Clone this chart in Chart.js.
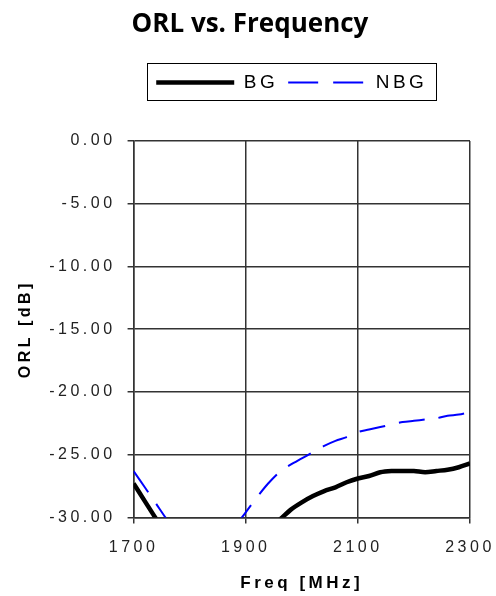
<!DOCTYPE html>
<html>
<head>
<meta charset="utf-8">
<script src="https://cdn.jsdelivr.net/npm/chart.js@4.4.1/dist/chart.umd.min.js"></script>
<style>
  html, body { margin: 0; padding: 0; background: #fff; }
  #wrap { position: relative; width: 496px; height: 596px; }
  #orl { position: absolute; left: 0; top: 0; }
  #title { position: absolute; left: 0; top: 6px; width: 500px; text-align: center;
           font: bold 26px "Open Sans"; line-height: 32px; color: #000; }
</style>
</head>
<body>
<div id="wrap">
  <canvas id="orl" width="496" height="596"></canvas>
  <div id="title">ORL vs. Frequency</div>
</div>
<script>
// frequency in MHz
var freq = [1700, 1720, 1740, 1760, 1800, 1850, 1880, 1900, 1920, 1940, 1960, 1980, 2000,
            2020, 2040, 2060, 2080, 2100, 2120, 2140, 2160, 2180, 2200, 2220, 2240, 2260, 2280, 2300];
// ORL in dB (below -30 is off the chart)
var bg  = [-27.3, -28.7, -30.1, -31.4, -33.0, -33.5, -33.2, -32.5, -31.5, -30.8, -30.2, -29.4, -28.8,
           -28.3, -27.9, -27.6, -27.2, -26.9, -26.7, -26.4, -26.3, -26.3, -26.3, -26.4, -26.3, -26.2, -26.0, -25.7];
var nbg = [-26.3, -27.6, -28.9, -30.2, -32.5, -33.0, -30.8, -29.6, -28.4, -27.3, -26.4, -25.8, -25.3,
           -24.8, -24.3, -23.9, -23.6, -23.2, -23.0, -22.8, -22.6, -22.4, -22.3, -22.2, -22.1, -21.9, -21.8, -21.6];
var xTicks = [1700, 1900, 2100, 2300];
var yTicks = [0, -5, -10, -15, -20, -25, -30];

function pts(ys) {
  return freq.map(function(f, i) { return {x: f, y: ys[i]}; });
}

var spacing = {
  id: 'spacing',
  beforeLayout: function(chart) {
    chart.ctx.letterSpacing = '3.5px';
    var lg = chart.legend;
    if (lg && !lg._padded) {
      var fit = lg.fit;
      lg.fit = function() { fit.call(this); this.height += 39; };
      lg._padded = true;
    }
  },
  afterLayout: function(chart) {
    // legend sits a little left of the plot centre
    if (chart.legend) { chart.legend.left -= 10; chart.legend.right -= 10; }
  },
  beforeDraw: function(chart) { chart.ctx.letterSpacing = '3.5px'; },
  afterDraw: function(chart) {
    var hb = chart.legend && chart.legend.legendHitBoxes;
    if (!hb || !hb.length) return;
    var last = hb[hb.length - 1];
    var ctx = chart.ctx;
    ctx.save();
    ctx.strokeStyle = '#000';
    ctx.lineWidth = 1;
    ctx.setLineDash([]);
    var l = Math.round(hb[0].left - 9) + 0.5, r = Math.round(last.left + last.width + 9) + 0.5;
    var t = Math.round(hb[0].top - 10) + 0.5, b = Math.round(hb[0].top + hb[0].height + 8) + 0.5;
    ctx.strokeRect(l, t, r - l, b - t);
    ctx.restore();
  }
};

var ctx = document.getElementById('orl').getContext('2d');
var myChart = new Chart(ctx, {
  type: 'line',
  data: {
    datasets: [{
      label: 'BG',
      data: pts(bg),
      borderColor: '#000000',
      backgroundColor: '#000000',
      borderWidth: 4.5,
      pointRadius: 0,
      tension: 0.3,
      clip: 0
    },
    {
      label: 'NBG',
      data: pts(nbg),
      borderColor: '#0000ff',
      backgroundColor: '#0000ff',
      borderWidth: 2,
      borderDash: [26, 14],
      pointRadius: 0,
      tension: 0.3,
      clip: 0
    }]
  },
  options: {
    responsive: false,
    animation: false,
    layout: { padding: { top: 63, left: 14, right: 26, bottom: 0 } },
    plugins: {
      tooltip: { enabled: false },
      legend: {
        position: 'top',
        fullSize: false,
        labels: {
          usePointStyle: true,
          pointStyle: 'line',
          pointStyleWidth: 78,
          padding: 10,
          color: '#000',
          font: { family: '"Liberation Sans", Arial', size: 19 },
          generateLabels: function(chart) {
            var items = Chart.defaults.plugins.legend.labels.generateLabels(chart);
            items.forEach(function(it) {
              var ds = chart.data.datasets[it.datasetIndex];
              it.lineWidth = ds.borderWidth;
              it.lineDash = ds.borderDash ? [30, 15] : [];
              it.strokeStyle = ds.borderColor;
            });
            return items;
          }
        }
      }
    },
    scales: {
      x: {
        type: 'linear',
        min: xTicks[0],
        max: xTicks[xTicks.length - 1],
        afterBuildTicks: function(s) { s.ticks = xTicks.map(function(v) { return {value: v}; }); },
        afterFit: function(s) { s.paddingRight = 0; },
        grid: { color: '#333', lineWidth: 1.5, tickLength: 6 },
        border: { color: '#333', width: 1.5 },
        ticks: {
          color: '#222', padding: 15, maxRotation: 0,
          font: { family: '"Liberation Sans", Arial', size: 16 },
          callback: function(v) { return String(v); }
        },
        title: {
          display: true, text: 'Freq [MHz]', color: '#000',
          font: { family: '"Liberation Sans", Arial', size: 17, weight: 'bold' },
          padding: { top: 1, bottom: 2 }
        }
      },
      y: {
        min: yTicks[yTicks.length - 1],
        max: yTicks[0],
        afterBuildTicks: function(s) { s.ticks = yTicks.slice().reverse().map(function(v) { return {value: v}; }); },
        grid: { color: '#333', lineWidth: 1.5, tickLength: 6 },
        border: { color: '#333', width: 1.5 },
        ticks: {
          color: '#222', padding: 12,
          font: { family: '"Liberation Sans", Arial', size: 16 },
          callback: function(v) { return v.toFixed(2); }
        },
        title: {
          display: true, text: 'ORL [dB]', color: '#000',
          font: { family: '"Liberation Sans", Arial', size: 16, weight: 'bold' },
          padding: { top: 2, bottom: 2 }
        }
      }
    }
  },
  plugins: [spacing]
});
</script>
</body>
</html>
